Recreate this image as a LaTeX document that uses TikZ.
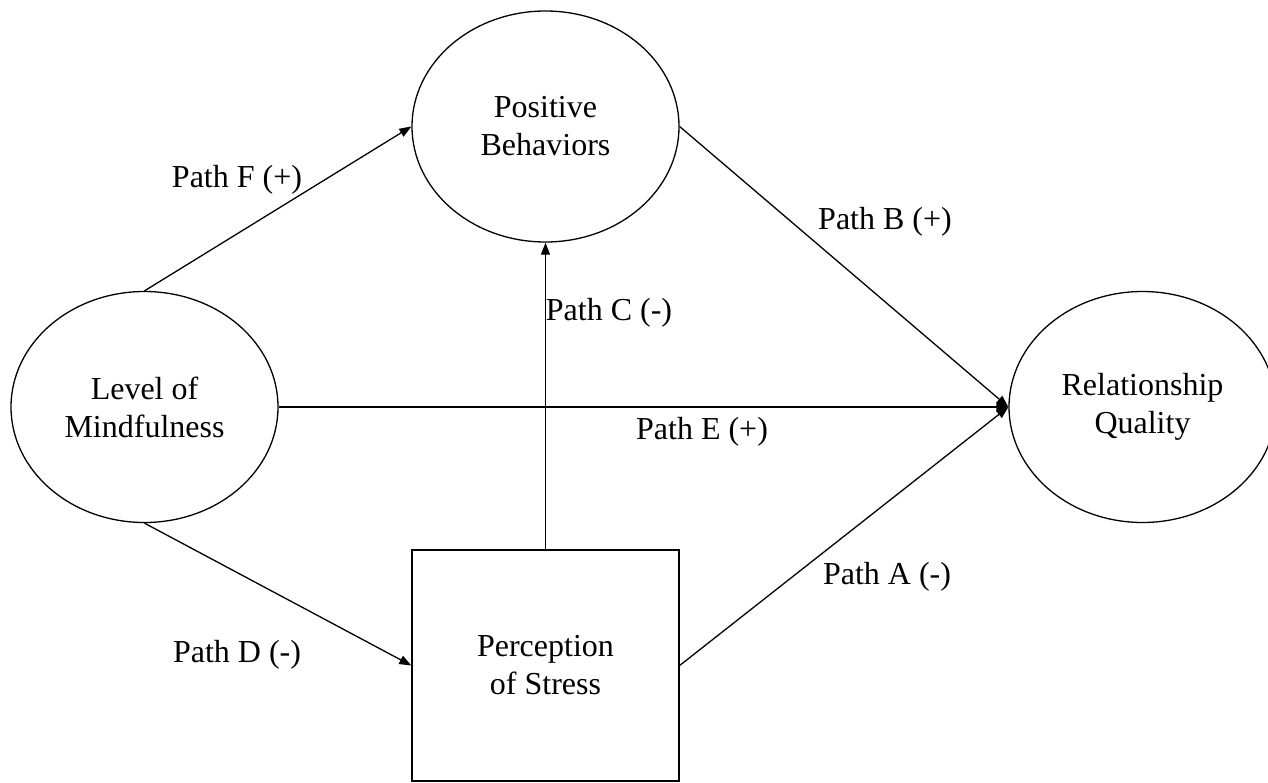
\documentclass[tikz,border=0pt]{standalone}
\usepackage{fontspec}
\setmainfont{Liberation Serif}
\usetikzlibrary{arrows.meta,shapes.geometric}
\begin{document}
\begin{tikzpicture}[x=1pt,y=-1pt,
  every node/.style={font=\fontsize{32}{38}\selectfont},
  ell/.style={draw, line width=1.3pt, ellipse, minimum width=267pt, minimum height=231pt, inner sep=0pt, align=center},
  stressbox/.style={draw, line width=1.3pt, rectangle, minimum width=267pt, minimum height=231pt, inner sep=0pt, align=center},
  arr/.style={draw, line width=1.3pt, -{Triangle[length=12pt,width=9pt]}},
  lab/.style={inner sep=0pt}]
\useasboundingbox (0,0) rectangle (1268,782);
\node[ell] (pb) at (545.5,126.5) {Positive\\Behaviors};
\node[ell] (lm) at (144.5,407) {Level of\\Mindfulness};
\node[ell] (rq) at (1142.5,407) {Relationship\\Quality};
\node[stressbox] (ps) at (545.5,665.5) {Perception\\of Stress};
\draw[arr] (lm.north) -- (pb.west);
\draw[arr] (pb.east) -- (rq.west);
\draw[arr] (ps.north) -- (pb.south);
\draw[arr] (lm.east) -- (rq.west);
\draw[arr] (lm.south) -- (ps.west);
\draw[arr] (ps.east) -- (rq.west);
\node[lab] (lf) at (237,180) {Path F (+)};
\node[lab] (lb) at (885,222) {Path B (+)};
\node[lab] (lc) at (609,313) {Path C (-)};
\node[lab] (le) at (702,432) {Path E (+)};
\node[lab] (la) at (887,577) {Path A (-)};
\node[lab] (ld) at (237,655) {Path D (-)};
\end{tikzpicture}
\end{document}
